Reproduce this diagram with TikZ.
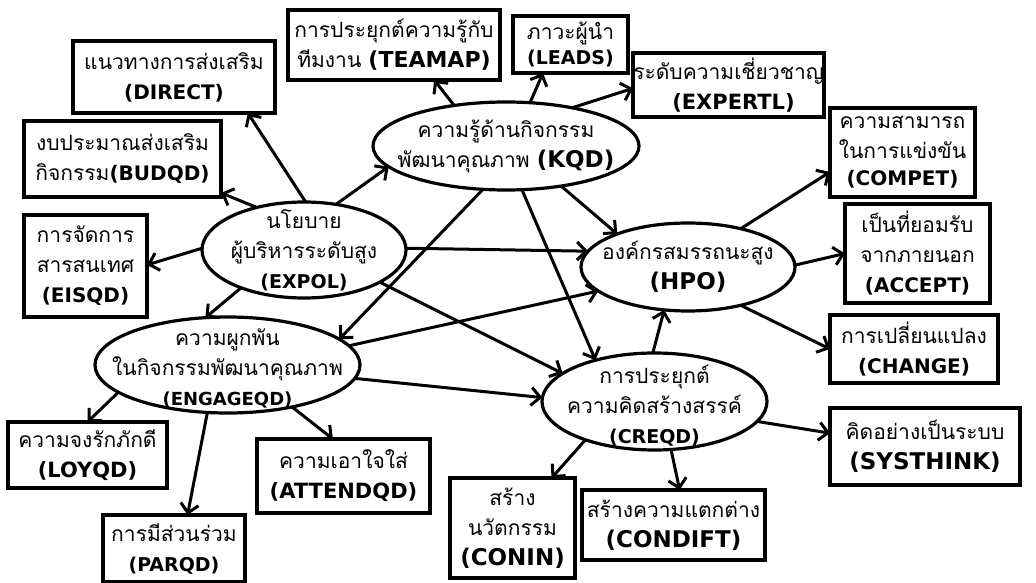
\documentclass[tikz,border=0pt]{standalone}
\usepackage{fontspec}
\usetikzlibrary{shapes.geometric,arrows.meta}
\newfontfamily\thaifont[Script=Thai]{Loma}
\newfontfamily\latfont{DejaVu Sans}
\newcommand\T{\thaifont\fontsize{21}{30}\selectfont}
\newcommand\LT[2][20]{{\latfont\bfseries\fontsize{#1}{30}\selectfont #2}}
\tikzset{
 box/.style={draw, line width=3.2pt, rectangle, inner sep=0pt, outer sep=0pt, align=center, font=\T},
 ell/.style={draw, ellipse, line width=3.2pt, inner sep=0pt, outer sep=0pt},
 lbl/.style={align=center, font=\T, inner sep=0pt},
 arr/.style={line width=3pt, -{Straight Barb[length=9pt,width=18pt]}},
}
\begin{document}
\begin{tikzpicture}[x=1pt,y=-1pt]
\useasboundingbox (0,0) rectangle (1036,583);
% boxes
\node[box, minimum width=212pt, minimum height=70pt] (teamap) at (394,45) {การประยุกต์ความรู้กับ\\ทีมงาน \LT[22]{(TEAMAP)}};
\node[box, minimum width=115pt, minimum height=57pt] (leads) at (570.5,44.5) {ภาวะผู้นำ\\[-5pt]\LT[19]{(LEADS)}};
\node[box, minimum width=191pt, minimum height=64pt] (expertl) at (728.5,85) {ระดับความเชี่ยวชาญ\\\hspace*{10pt}\LT[21]{(EXPERTL)}};
\node[box, minimum width=202pt, minimum height=72pt] (direct) at (174,77) {แนวทางการส่งเสริม\\\LT{(DIRECT)}};
\node[box, minimum width=197pt, minimum height=76pt] (budqd) at (122.5,159) {งบประมาณส่งเสริม\\กิจกรรม\LT{(BUDQD)}};
\node[box, minimum width=145pt, minimum height=89pt] (compet) at (902.5,152.5) {ความสามารถ\\ในการแข่งขัน\\[-3pt]\LT{(COMPET)}};
\node[box, minimum width=123pt, minimum height=102pt] (eisqd) at (85.5,266) {การจัดการ\\สารสนเทศ\\\LT{(EISQD)}};
\node[box, minimum width=145pt, minimum height=99pt] (accept) at (917.5,253.5) {เป็นที่ยอมรับ\\จากภายนอก\\\LT{(ACCEPT)}};
\node[box, minimum width=168pt, minimum height=68pt] (change) at (914,349) {การเปลี่ยนแปลง\\\LT{(CHANGE)}};
\node[box, minimum width=159pt, minimum height=66pt] (loyqd) at (87.5,455) {ความจงรักภักดี\\\LT[21]{(LOYQD)}};
\node[box, minimum width=142pt, minimum height=67pt] (parqd) at (174,548.5) {การมีส่วนร่วม\\\LT[19]{(PARQD)}};
\node[box, minimum width=173pt, minimum height=74pt] (attendqd) at (343.5,476) {ความเอาใจใส่\\\LT[21]{(ATTENDQD)}};
\node[box, minimum width=125pt, minimum height=100pt] (conin) at (512.5,528) {สร้าง\\นวัตกรรม\\\LT[23]{(CONIN)}};
\node[box, minimum width=183pt, minimum height=70pt] (condift) at (673.5,525) {สร้างความแตกต่าง\\\LT[23]{(CONDIFT)}};
\node[box, minimum width=190pt, minimum height=77pt] (systhink) at (925,446.5) {คิดอย่างเป็นระบบ\\\LT[23]{(SYSTHINK)}};
% ellipses
\node[ell, minimum width=266pt, minimum height=88pt, label={[lbl]center:{ความรู้ด้านกิจกรรม\\พัฒนาคุณภาพ \LT[23]{(KQD)}}}] (kqd) at (506,146) {};
\node[ell, minimum width=204pt, minimum height=96pt, label={[lbl]center:{นโยบาย\\ผู้บริหารระดับสูง\\\LT[19]{(EXPOL)}}}] (expol) at (304,250) {};
\node[ell, minimum width=214pt, minimum height=88pt, label={[lbl]center:{องค์กรสมรรถนะสูง\\\LT[23]{(HPO)}}}] (hpo) at (688,267) {};
\node[ell, minimum width=265pt, minimum height=96pt, label={[lbl,yshift=-3pt]center:{ความผูกพัน\\ในกิจกรรมพัฒนาคุณภาพ\\\LT[18]{(ENGAGEQD)}}}] (engageqd) at (227.5,365) {};
\node[ell, minimum width=225pt, minimum height=97pt, label={[lbl,yshift=-4pt]center:{การประยุกต์\\ความคิดสร้างสรรค์\\\LT[19]{(CREQD)}}}] (creqd) at (654.5,401.5) {};
% connectors
\draw[arr] (expol.88) -- (direct.-26);
\draw[arr] (expol.138) -- (budqd.-19);
\draw[arr] (expol.179) -- (eisqd.1);
\draw[arr] (expol.55) -- (kqd.190);
\draw[arr] (expol.1) -- (hpo.171);
\draw[arr] (expol.211) -- (engageqd.115);
\draw[arr] (expol.-23) -- (creqd.163);
\draw[arr] (kqd.142) -- (teamap.-41);
\draw[arr] (kqd.61) -- (leads.226);
\draw[arr] (kqd.30) -- (expertl.182);
\draw[arr] (kqd.-36) -- (hpo.155);
\draw[arr] (kqd.-70) -- (creqd.145);
\draw[arr] (kqd.242) -- (engageqd.13);
\draw[arr] (engageqd.9) -- (hpo.195);
\draw[arr] (engageqd.-6) -- (creqd.178);
\draw[arr] (engageqd.194) -- (loyqd.north);
\draw[arr] (engageqd.247) -- (parqd.68);
\draw[arr] (engageqd.-33) -- (attendqd.106);
\draw[arr] (creqd.92) -- (hpo.241);
\draw[arr] (hpo.36) -- (compet.195);
\draw[arr] (hpo.1) -- (accept.west);
\draw[arr] (hpo.-36) -- (change.west);
\draw[arr] (creqd.-11) -- (systhink.172);
\draw[arr] (creqd.209) -- (conin.52);
\draw[arr] (creqd.-71) -- (condift.80);
\end{tikzpicture}
\end{document}
